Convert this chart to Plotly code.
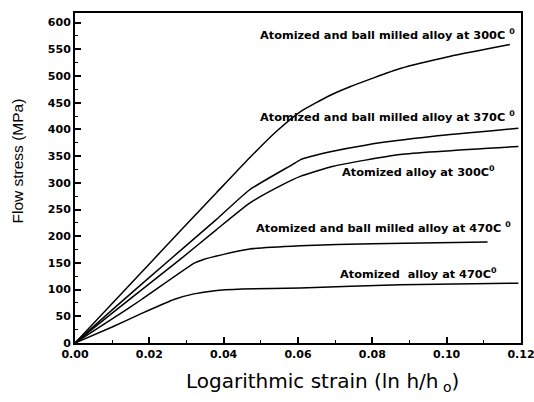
import plotly.graph_objects as go

# Data (strain, stress in MPa)
bm300_strain = [0, 0.010, 0.020, 0.029, 0.035, 0.038, 0.047, 0.0543, 0.0606, 0.0687, 0.074, 0.0875, 0.101, 0.117]
bm300_stress = [0, 74, 148, 215, 259, 281, 347, 397, 433, 464, 480, 514, 537, 559]

bm370_strain = [0, 0.010, 0.0255, 0.038, 0.047, 0.0587, 0.0606, 0.0687, 0.0785, 0.0965, 0.1193]
bm370_stress = [0, 62, 156, 231, 287, 335, 343, 358, 371, 387, 402]

at300_strain = [0, 0.010, 0.0282, 0.038, 0.047, 0.056, 0.0606, 0.0695, 0.0875, 0.1193]
at300_stress = [0, 56, 156, 212, 262, 297, 312, 331, 353, 368]

bm470_strain = [0, 0.010, 0.0178, 0.0322, 0.0344, 0.040, 0.047, 0.0606, 0.080, 0.111]
bm470_stress = [0, 45, 81, 150, 156, 166, 176, 182, 186, 189]

at470_strain = [0, 0.010, 0.0178, 0.0268, 0.032, 0.0376, 0.045, 0.0606, 0.0875, 0.1193]
at470_stress = [0, 30, 55, 82, 92, 98, 101, 103, 109, 112]

series = [
    ("Atomized and ball milled alloy at 300C", bm300_strain, bm300_stress),
    ("Atomized and ball milled alloy at 370C", bm370_strain, bm370_stress),
    ("Atomized alloy at 300C", at300_strain, at300_stress),
    ("Atomized and ball milled alloy at 470C", bm470_strain, bm470_stress),
    ("Atomized alloy at 470C", at470_strain, at470_stress),
]

labels = [
    "Atomized and ball milled alloy at 300C <sup>0</sup>",
    "Atomized and ball milled alloy at 370C <sup>0</sup>",
    "Atomized alloy at 300C<sup>0</sup>",
    "Atomized and ball milled alloy at 470C <sup>0</sup>",
    "Atomized  alloy at 470C<sup>0</sup>",
]
label_x = [0.0492, 0.0492, 0.0713, 0.0481, 0.0708]
label_y = [578, 424, 321, 216, 131]

x_ticks = [0, 0.02, 0.04, 0.06, 0.08, 0.10, 0.12]
x_ticklabels = ["0.00", "0.02", "0.04", "0.06", "0.08", "0.10", "0.12"]
y_ticks = list(range(0, 601, 50))

fig = go.Figure()
for name, xs, ys in series:
    fig.add_trace(go.Scatter(x=xs, y=ys, mode="lines", name=name,
                             line=dict(color="black", width=1.5, shape="spline", smoothing=0.5),
                             showlegend=False))

for txt, lx, ly in zip(labels, label_x, label_y):
    fig.add_annotation(x=lx, y=ly, xref="x", yref="y", text=txt, showarrow=False,
                       xanchor="left", yanchor="middle",
                       font=dict(family="DejaVu Sans", size=11.3, color="black", weight="bold"))

# axis titles as annotations (placed as in the reference)
fig.add_annotation(x=0.555, y=-0.118, xref="paper", yref="paper",
                   text="Logarithmic strain (ln h/h<sub> o</sub>)", showarrow=False,
                   xanchor="center", yanchor="middle",
                   font=dict(family="DejaVu Sans", size=20, color="black"))
fig.add_annotation(x=-0.13, y=0.55, xref="paper", yref="paper",
                   text="Flow stress (MPa)", showarrow=False, textangle=-90,
                   xanchor="center", yanchor="middle",
                   font=dict(family="Liberation Sans", size=15.5, color="black"))

tick_font = dict(family="DejaVu Sans", size=11, color="black", weight="bold")
fig.update_xaxes(range=[0, 0.12], tickvals=x_ticks, ticktext=x_ticklabels,
                 ticks="inside", ticklen=6, tickwidth=1.5, tickcolor="black",
                 minor=dict(dtick=0.01, ticks="inside", ticklen=3, tickcolor="black", tickwidth=1),
                 showline=True, linecolor="black", linewidth=2, mirror=True,
                 showgrid=False, zeroline=False, tickfont=tick_font,
                 ticklabeloverflow="allow", automargin=False)
fig.update_yaxes(range=[0, 618], tickvals=y_ticks,
                 ticks="inside", ticklen=6, tickwidth=1.5, tickcolor="black",
                 minor=dict(dtick=25, ticks="inside", ticklen=3, tickcolor="black", tickwidth=1),
                 showline=True, linecolor="black", linewidth=2, mirror=True,
                 showgrid=False, zeroline=False, tickfont=tick_font,
                 ticklabeloverflow="allow", automargin=False)

fig.update_layout(width=534, height=402, margin=dict(l=75, r=13, t=13, b=59),
                  plot_bgcolor="white", paper_bgcolor="white")

fig.write_html("out.html")
